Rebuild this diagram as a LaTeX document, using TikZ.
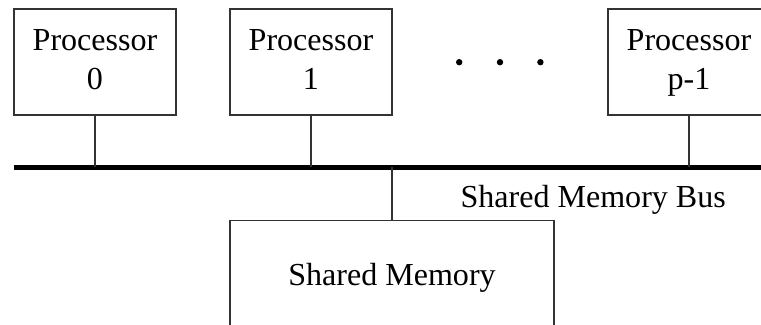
\documentclass[tikz,border=0pt]{standalone}
\usepackage{fontspec}
\setmainfont{Liberation Serif}
\tikzset{
  unit/.style={draw=black!80, line width=0.8pt, align=center,
    font=\fontsize{22.8}{27.7}\selectfont},
  proc/.style={unit, minimum width=4.05cm, minimum height=2.65cm},
  memory/.style={unit, minimum width=8.1cm, minimum height=2.865cm},
  bus/.style={line width=3.6pt},
  tap/.style={draw=black!80, line width=0.8pt}
}
\begin{document}
\begin{tikzpicture}
\clip (0,0) rectangle (19.025,8.125);
% processors on top
\foreach \x/\n/\lab in {2.375/p0/0, 7.775/p1/1, 17.225/pn/p-1}
  \node[proc] (\n) at (\x,6.575) {Processor\strut\\\lab\strut};
\foreach \x in {11.48,12.5,13.51} \fill (\x,6.57) circle (0.08cm);
% the bus
\coordinate (busl) at (0.35,3.9375);
\coordinate (busr) at (19.3,3.9375);
\draw[bus] (busl) -- (busr);
\node[font=\fontsize{22.8}{27.7}\selectfont] (buslab) at (14.83,3.13) {Shared Memory Bus};
% memory below
\node[memory] (mem) at (9.8,1.175) {Shared Memory};
\foreach \n in {p0,p1,pn} \draw[tap] (\n) -- (\n |- busl);
\draw[tap] (mem) -- (mem |- busl);
\end{tikzpicture}
\end{document}
